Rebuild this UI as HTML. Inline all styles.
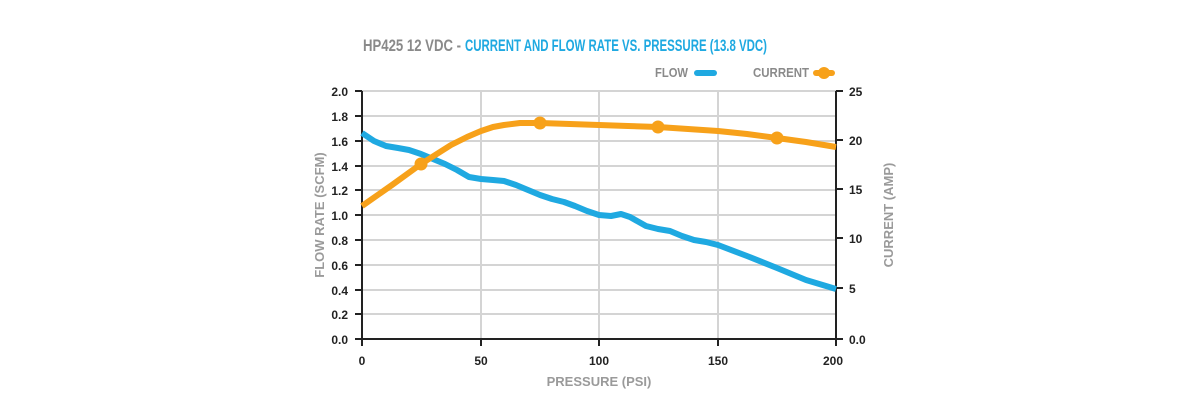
<!DOCTYPE html>
<html><head><style>body{margin:0;background:#fff}svg{display:block}text{font-family:"Liberation Sans Narrow","Liberation Sans",sans-serif;font-weight:bold}</style></head><body>
<svg width="1200" height="400" viewBox="0 0 1200 400">
<text x="363" y="51" font-size="17" fill="#8a8a8a" textLength="98" lengthAdjust="spacingAndGlyphs">HP425 12 VDC -</text>
<text x="465" y="51" font-size="17" fill="#1fa9e1" textLength="302" lengthAdjust="spacingAndGlyphs">CURRENT AND FLOW RATE VS. PRESSURE (13.8 VDC)</text>
<text x="655" y="77" font-size="13" fill="#8a8a8a" font-weight="normal" textLength="33" lengthAdjust="spacingAndGlyphs">FLOW</text>
<line x1="697" y1="73" x2="714" y2="73" stroke="#1fa9e1" stroke-width="6" stroke-linecap="round"/>
<text x="753" y="77" font-size="13" fill="#8a8a8a" font-weight="normal" textLength="56" lengthAdjust="spacingAndGlyphs">CURRENT</text>
<line x1="816" y1="73" x2="832" y2="73" stroke="#f7a11a" stroke-width="6" stroke-linecap="round"/>
<circle cx="824" cy="73" r="6" fill="#f7a11a"/>
<g stroke="#d4d4d4" stroke-width="2">
<line x1="362" y1="116" x2="836" y2="116"/><line x1="362" y1="141" x2="836" y2="141"/><line x1="362" y1="166" x2="836" y2="166"/><line x1="362" y1="190" x2="836" y2="190"/><line x1="362" y1="215" x2="836" y2="215"/><line x1="362" y1="240" x2="836" y2="240"/><line x1="362" y1="265" x2="836" y2="265"/><line x1="362" y1="290" x2="836" y2="290"/><line x1="362" y1="314" x2="836" y2="314"/><line x1="362" y1="91" x2="836" y2="91"/>
<line x1="481" y1="91" x2="481" y2="339"/><line x1="599" y1="91" x2="599" y2="339"/><line x1="718" y1="91" x2="718" y2="339"/>
</g>
<g stroke="#222" stroke-width="2">
<line x1="362" y1="91" x2="362" y2="339"/><line x1="836" y1="91" x2="836" y2="339"/><line x1="355" y1="339" x2="843" y2="339"/>
<line x1="355" y1="91" x2="362" y2="91"/><line x1="355" y1="116" x2="362" y2="116"/><line x1="355" y1="141" x2="362" y2="141"/><line x1="355" y1="166" x2="362" y2="166"/><line x1="355" y1="190" x2="362" y2="190"/><line x1="355" y1="215" x2="362" y2="215"/><line x1="355" y1="240" x2="362" y2="240"/><line x1="355" y1="265" x2="362" y2="265"/><line x1="355" y1="290" x2="362" y2="290"/><line x1="355" y1="314" x2="362" y2="314"/>
<line x1="836" y1="91" x2="843" y2="91"/><line x1="836" y1="140" x2="843" y2="140"/><line x1="836" y1="189" x2="843" y2="189"/><line x1="836" y1="238" x2="843" y2="238"/><line x1="836" y1="288" x2="843" y2="288"/>
<line x1="362" y1="339" x2="362" y2="346"/><line x1="481" y1="339" x2="481" y2="346"/><line x1="599" y1="339" x2="599" y2="346"/><line x1="718" y1="339" x2="718" y2="346"/><line x1="836" y1="339" x2="836" y2="346"/>
</g>
<g font-size="12" fill="#222" text-anchor="end">
<text x="348" y="96">2.0</text><text x="348" y="121">1.8</text><text x="348" y="146">1.6</text><text x="348" y="171">1.4</text><text x="348" y="195">1.2</text><text x="348" y="220">1.0</text><text x="348" y="245">0.8</text><text x="348" y="270">0.6</text><text x="348" y="295">0.4</text><text x="348" y="319">0.2</text><text x="348" y="344">0.0</text>
</g>
<g font-size="12" fill="#222">
<text x="849" y="96">25</text><text x="849" y="145">20</text><text x="849" y="194">15</text><text x="849" y="243">10</text><text x="849" y="293">5</text><text x="849" y="344">0.0</text>
</g>
<g font-size="12" fill="#222" text-anchor="middle">
<text x="362" y="365">0</text><text x="481" y="365">50</text><text x="599" y="365">100</text><text x="718" y="365">150</text><text x="833" y="365">200</text>
</g>
<text x="599" y="386" font-size="13" fill="#9a9a9a" text-anchor="middle">PRESSURE (PSI)</text>
<text transform="translate(324,215) rotate(-90)" font-size="13" fill="#9a9a9a" text-anchor="middle">FLOW RATE (SCFM)</text>
<text transform="translate(893,215) rotate(-90)" font-size="13" fill="#9a9a9a" text-anchor="middle">CURRENT (AMP)</text>
<polyline fill="none" stroke="#1fa9e1" stroke-width="6" stroke-linejoin="round" points="362,133 374,141 386,146 398,148 409,150 421,154 433,159 445,164 457,170 469,177 481,179 493,180 504,181 516,185 528,190 540,195 552,199 564,202 575,206 587,211 599,215 611,216 621,214 630,217 646,226 658,229 670,231 682,236 694,240 706,242 718,245 747,256 777,268 806,280 836,289"/>
<polyline fill="none" stroke="#f7a11a" stroke-width="6" stroke-linejoin="round" points="362,206 392,185 421,164 451,145 467,137 481,131 493,127 504,125 520,123 540,123 570,124 599,125 628,126 658,127 688,129 718,131 747,134 777,138 806,142 836,147"/>
<g fill="#f7a11a"><circle cx="421" cy="164" r="6.5"/><circle cx="540" cy="123" r="6.5"/><circle cx="658" cy="127" r="6.5"/><circle cx="777" cy="138" r="6.5"/></g>
</svg>
</body></html>
